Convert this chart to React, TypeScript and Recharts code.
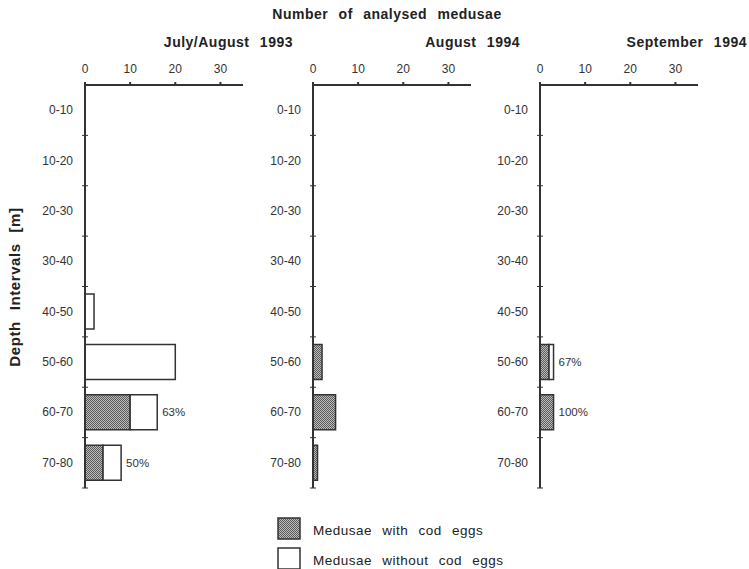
import { Bar, BarChart, LabelList, XAxis, YAxis } from "recharts";

const depths = ["0-10", "10-20", "20-30", "30-40", "40-50", "50-60", "60-70", "70-80"];
const countTicks = [0, 10, 20, 30];

const julAug93With = [0, 0, 0, 0, 0, 0, 10, 4];
const julAug93Without = [0, 0, 0, 0, 2, 20, 6, 4];
const julAug93Pct = ["", "", "", "", "", "", "63%", "50%"];

const aug94With = [0, 0, 0, 0, 0, 2, 5, 1];
const aug94Without = [0, 0, 0, 0, 0, 0, 0, 0];
const aug94Pct = ["", "", "", "", "", "", "", ""];

const sep94With = [0, 0, 0, 0, 0, 2, 3, 0];
const sep94Without = [0, 0, 0, 0, 0, 1, 0, 0];
const sep94Pct = ["", "", "", "", "", "67%", "100%", ""];

const INK = "#333";
const FONT = "'Liberation Sans', Arial, sans-serif";

// the share label sits after whichever segment ends the stack
function rows(withEggs: number[], without: number[], pct: string[]) {
  return depths.map((depth, i) => ({
    depth,
    withEggs: withEggs[i],
    without: without[i],
    pctWith: without[i] === 0 ? pct[i] : "",
    pctWithout: without[i] === 0 ? "" : pct[i],
  }));
}

const panels = [
  { title: "July/August 1993", left: 25, data: rows(julAug93With, julAug93Without, julAug93Pct) },
  { title: "August 1994", left: 253, data: rows(aug94With, aug94Without, aug94Pct) },
  { title: "September 1994", left: 480, data: rows(sep94With, sep94Without, sep94Pct) },
];

// category label plus small marks at the band boundaries
function DepthTick(props: any) {
  const { x, y, payload, index, visibleTicksCount } = props;
  const half = payload.offset ?? 0;
  const ax = x + 12;
  return (
    <g>
      <text x={x} y={y} dy={4} textAnchor="end" fontSize={12} fill={INK} fontFamily={FONT}>
        {payload.value}
      </text>
      {index > 0 && <line x1={ax - 3} x2={ax + 3} y1={y - half} y2={y - half} stroke={INK} strokeWidth={1} />}
      {index === visibleTicksCount - 1 && (
        <line x1={ax - 3} x2={ax + 3} y1={y + half} y2={y + half} stroke={INK} strokeWidth={1} />
      )}
    </g>
  );
}

function PctLabel(props: any) {
  const { x, y, width, height, value } = props;
  if (!value) return null;
  return (
    <text x={x + width + 5} y={y + height / 2} dy={4} fontSize={11.5} fill={INK} fontFamily={FONT}>
      {value}
    </text>
  );
}

function Panel({ data, left }: { data: any[]; left: number }) {
  return (
    <div style={{ position: "absolute", left, top: 55 }}>
      <BarChart
        width={228}
        height={440}
        data={data}
        layout="vertical"
        margin={{ top: 0, right: 10, left: 0, bottom: 7 }}
        barCategoryGap="15%"
      >
        <XAxis
          type="number"
          orientation="top"
          domain={[0, 35]}
          ticks={countTicks}
          height={30}
          tickSize={3}
          tickMargin={9}
          stroke={INK}
          strokeWidth={2}
          tick={{ fontSize: 12, fill: INK, fontFamily: FONT }}
          allowDataOverflow
        />
        <YAxis
          type="category"
          dataKey="depth"
          width={60}
          tickLine={false}
          tickSize={0}
          tickMargin={12}
          stroke={INK}
          strokeWidth={2}
          tick={<DepthTick />}
          interval={0}
        />
        <Bar dataKey="withEggs" stackId="s" fill="url(#codEggs)" stroke={INK} strokeWidth={1.5} isAnimationActive={false}>
          <LabelList dataKey="pctWith" content={<PctLabel />} />
        </Bar>
        <Bar dataKey="without" stackId="s" fill="#fff" stroke={INK} strokeWidth={1.5} isAnimationActive={false}>
          <LabelList dataKey="pctWithout" content={<PctLabel />} />
        </Bar>
      </BarChart>
    </div>
  );
}

const panelTitleRight = [293, 520, 747];
const headStyle = { fontWeight: "bold" as const, fontSize: 14, letterSpacing: 0.5, wordSpacing: 6, whiteSpace: "nowrap" as const };

export default function App() {
  return (
    <div style={{ position: "absolute", left: 0, top: 0, width: 749, height: 569, background: "#fff", fontFamily: FONT, color: "#222", overflow: "hidden" }}>
      <svg width={0} height={0} style={{ position: "absolute" }}>
        <defs>
          <pattern id="codEggs" width={2} height={2} patternUnits="userSpaceOnUse">
            <rect width={2} height={2} fill="#bdbdbd" />
            <rect width={1} height={1} fill="#5a5a5a" />
            <rect x={1} y={1} width={1} height={1} fill="#5a5a5a" />
          </pattern>
        </defs>
      </svg>

      <div style={{ ...headStyle, position: "absolute", left: 0, width: 774, top: 6, textAlign: "center" }}>
        Number of analysed medusae
      </div>

      {panels.map((p, i) => (
        <div key={p.title} style={{ ...headStyle, position: "absolute", right: 749 - panelTitleRight[i], top: 34 }}>
          {p.title}
        </div>
      ))}

      <div
        style={{ ...headStyle, fontSize: 15, letterSpacing: 0.6, position: "absolute", left: 14, top: 287, transform: "translate(-50%, -50%) rotate(-90deg)" }}
      >
        Depth Intervals [m]
      </div>

      {panels.map((p) => (
        <Panel key={p.title} data={p.data} left={p.left} />
      ))}

      <svg width={749} height={569} style={{ position: "absolute", left: 0, top: 0, pointerEvents: "none" }}>
        <rect x={278} y={518} width={22} height={21} fill="url(#codEggs)" stroke={INK} strokeWidth={1.5} />
        <text x={313} y={535} fontSize={13.5} fill="#222" fontFamily={FONT} letterSpacing={0.5} wordSpacing={6}>
          Medusae with cod eggs
        </text>
        <rect x={278} y={548} width={22} height={21} fill="#fff" stroke={INK} strokeWidth={1.5} />
        <text x={313} y={565} fontSize={13.5} fill="#222" fontFamily={FONT} letterSpacing={0.5} wordSpacing={6}>
          Medusae without cod eggs
        </text>
      </svg>
    </div>
  );
}
